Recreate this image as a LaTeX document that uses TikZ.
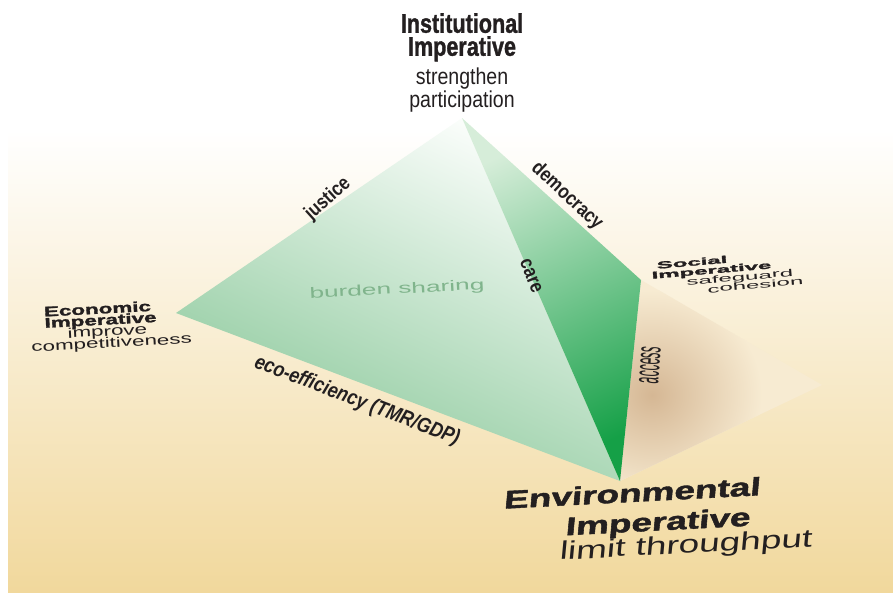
\documentclass[tikz,border=0pt]{standalone}
\usepackage{fontspec}
\setmainfont{Liberation Sans}
\newfontfamily\narrowfont[FakeStretch=0.85]{Liberation Sans}
\newfontfamily\narrowblack[FakeStretch=0.8,FakeBold=1.2]{Liberation Sans Bold}
\newfontfamily\blackfont[FakeBold=1.5]{Liberation Sans Bold}

\definecolor{ink}{HTML}{231F20}
\definecolor{paper}{HTML}{FAF0DA}
\definecolor{sand}{HTML}{F1D89C}
\definecolor{shadowlight}{HTML}{F7EBD2}
\definecolor{shadowdark}{HTML}{D5B794}
\definecolor{leaftop}{HTML}{FCFEFC}
\definecolor{leafmid}{HTML}{AEDAB7}
\definecolor{leafbot}{HTML}{88C798}
\definecolor{deeptop}{HTML}{D6EDD9}
\definecolor{deepmid}{HTML}{68BB7E}
\definecolor{deepbot}{HTML}{15A047}
\definecolor{faded}{HTML}{80B48C}

\begin{document}
\begin{tikzpicture}[x=1pt,y=-1pt,
    every node/.style={inner sep=0pt,text=ink},
    edgelabel/.style={font=\narrowfont\bfseries\fontsize{20}{20}\selectfont},
    floorlabel/.style={anchor=north west,align=left,transform shape}]
  \useasboundingbox (0,0) rectangle (893,592);

  % floor
  \shade[top color=white,middle color=paper,bottom color=sand] (8,130) rectangle (893,592);

  % corners
  \coordinate (inst) at (462,118);
  \coordinate (econ) at (176,313);
  \coordinate (soc) at (641,280);
  \coordinate (env) at (620,481);
  \coordinate (tip) at (822,385);

  % shadow on the floor
  \fill[shadowlight] (soc) -- (tip) -- (env) -- cycle;
  \begin{scope}
    \clip (soc) -- (tip) -- (env) -- cycle;
    \shade[inner color=shadowdark,outer color=shadowlight] (652,395) ellipse [x radius=110,y radius=105];
  \end{scope}

  % the two faces
  \shade[top color=leaftop,middle color=leafmid,bottom color=leafbot,shading angle=-25]
    (inst) -- (econ) -- (env) -- cycle;
  \shade[top color=deeptop,middle color=deepmid,bottom color=deepbot,shading angle=25]
    (inst) -- (soc) -- (env) -- cycle;

  % edges
  \node[edgelabel,rotate=42] (justice) at (328,199) {justice};
  \node[edgelabel,rotate=-43] (democracy) at (567,196) {democracy};
  \node[edgelabel,rotate=-68] (care) at (531,276) {care};
  \node[font=\narrowfont\bfseries\itshape\fontsize{21}{21}\selectfont,rotate=-21] (ecoeff) at (357,401) {eco-efficiency (TMR/GDP)};
  \node[font=\fontsize{36}{36}\selectfont,rotate=86,xscale=0.33] (access) at (650,365) {access};
  \node[font=\fontsize{15}{15}\selectfont,text=faded,rotate=3,xscale=1.75] (burden) at (397,290) {burden sharing};

  % imperatives
  \node[anchor=north,align=center,font=\narrowblack\fontsize{27}{23}\selectfont] (insttitle) at (462,13) {Institutional\\Imperative};
  \node[anchor=north,align=center,font=\narrowfont\fontsize{23}{21}\selectfont] (instsub) at (462,68) {strengthen\\participation};

  \node[floorlabel,rotate=3,xscale=1.6,font=\fontsize{14}{10}\selectfont] (econlabel) at (29,307)
    {\hspace*{9pt}{\blackfont Economic}\\\hspace*{9pt}{\blackfont Imperative}\\[-2.5pt]\hspace*{23pt}improve\\[-2.5pt]competitiveness};
  \node[floorlabel,rotate=5,xscale=2.4,font=\fontsize{10}{9.5}\selectfont] (soclabel) at (650,262)
    {\hspace*{2.5pt}{\blackfont Social}\\{\blackfont Imperative}\\\hspace*{14.3pt}safeguard\\\hspace*{22.7pt}cohesion};
  \node[floorlabel,rotate=3,xscale=1.68,yscale=1.15,xslant=0.1,font=\fontsize{22}{23}\selectfont] (envlabel) at (505,490)
    {{\blackfont Environmental}\\[3pt]\hspace*{38.4pt}{\blackfont Imperative}\\[-2pt]\hspace*{36.2pt}limit throughput};
\end{tikzpicture}
\end{document}
